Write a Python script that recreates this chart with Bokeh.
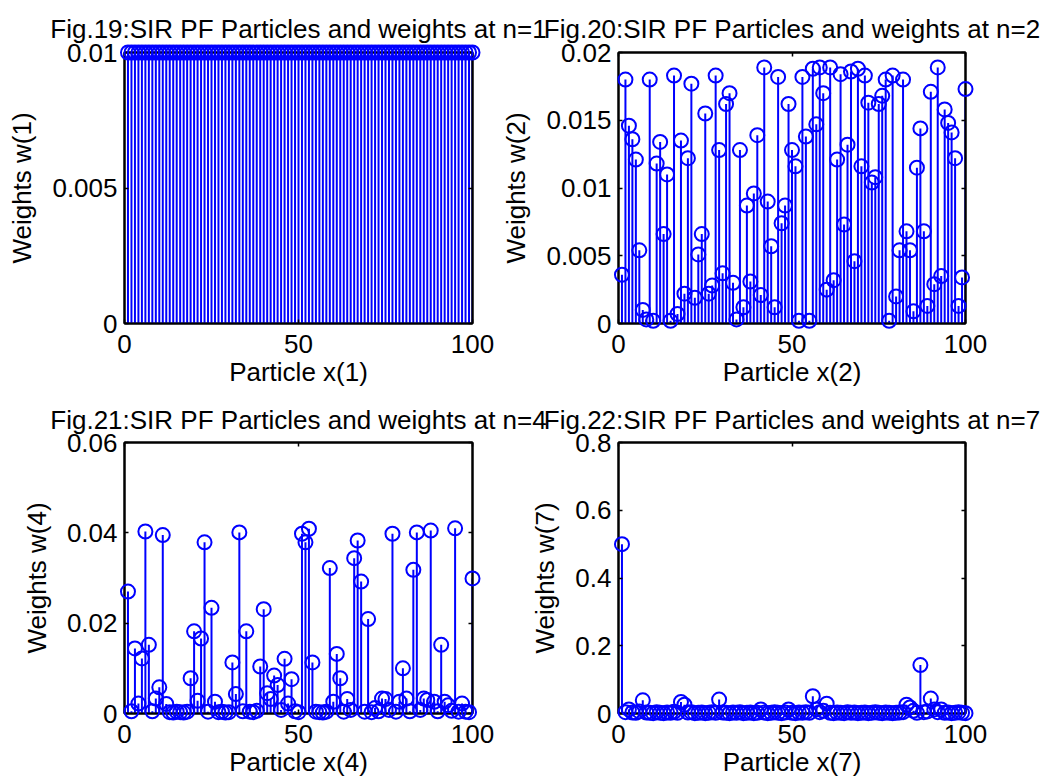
from bokeh.plotting import figure
from bokeh.models import Range1d, FixedTicker, LinearAxis, CustomJSTickFormatter, ColumnDataSource
from bokeh.layouts import row, column
from bokeh.embed import file_html
from bokeh.resources import INLINE

particles = list(range(1, 101))

w_n1 = [0.01] * 100

w_n2 = [0.0036, 0.0180, 0.0146, 0.0136, 0.0121, 0.0054, 0.0010, 0.0003, 0.0180, 0.0002,
        0.0118, 0.0134, 0.0066, 0.0110, 0.0002, 0.0183, 0.0007, 0.0135, 0.0022, 0.0122,
        0.0177, 0.0019, 0.0051, 0.0066, 0.0155, 0.0022, 0.0028, 0.0183, 0.0128, 0.0037,
        0.0162, 0.0170, 0.0030, 0.0003, 0.0128, 0.0012, 0.0087, 0.0031, 0.0096, 0.0139,
        0.0021, 0.0189, 0.0090, 0.0057, 0.0012, 0.0182, 0.0074, 0.0087, 0.0162, 0.0128,
        0.0116, 0.0002, 0.0182, 0.0138, 0.0002, 0.0188, 0.0147, 0.0189, 0.0170, 0.0025,
        0.0189, 0.0032, 0.0121, 0.0184, 0.0073, 0.0132, 0.0186, 0.0046, 0.0188, 0.0116,
        0.0183, 0.0163, 0.0104, 0.0108, 0.0162, 0.0168, 0.0180, 0.0002, 0.0183, 0.0020,
        0.0054, 0.0180, 0.0068, 0.0054, 0.0009, 0.0115, 0.0144, 0.0068, 0.0013, 0.0171,
        0.0029, 0.0189, 0.0035, 0.0158, 0.0148, 0.0141, 0.0122, 0.0013, 0.0034, 0.0173]

w_n4 = [0.0270, 0.0005, 0.0144, 0.0022, 0.0122, 0.0403, 0.0152, 0.0005, 0.0033, 0.0058,
        0.0395, 0.0021, 0.0003, 0.0002, 0.0004, 0.0003, 0.0002, 0.0004, 0.0078, 0.0182,
        0.0028, 0.0166, 0.0379, 0.0004, 0.0234, 0.0026, 0.0003, 0.0004, 0.0002, 0.0003,
        0.0113, 0.0043, 0.0401, 0.0005, 0.0182, 0.0004, 0.0003, 0.0006, 0.0104, 0.0231,
        0.0045, 0.0032, 0.0084, 0.0063, 0.0008, 0.0121, 0.0022, 0.0076, 0.0005, 0.0003,
        0.0398, 0.0379, 0.0409, 0.0113, 0.0004, 0.0003, 0.0002, 0.0004, 0.0322, 0.0026,
        0.0132, 0.0078, 0.0004, 0.0032, 0.0008, 0.0344, 0.0383, 0.0292, 0.0004, 0.0209,
        0.0003, 0.0012, 0.0005, 0.0033, 0.0032, 0.0008, 0.0398, 0.0004, 0.0026, 0.0100,
        0.0033, 0.0005, 0.0318, 0.0401, 0.0008, 0.0033, 0.0030, 0.0405, 0.0026, 0.0005,
        0.0152, 0.0026, 0.0018, 0.0006, 0.0410, 0.0004, 0.0022, 0.0004, 0.0003, 0.0299]

w_n7 = [0.500, 0.004, 0.012, 0.003, 0.002, 0.006, 0.039, 0.003, 0.002, 0.001,
        0.004, 0.002, 0.001, 0.003, 0.002, 0.005, 0.002, 0.034, 0.026, 0.003,
        0.004, 0.001, 0.002, 0.003, 0.001, 0.002, 0.004, 0.002, 0.041, 0.003,
        0.002, 0.001, 0.003, 0.002, 0.004, 0.001, 0.002, 0.003, 0.001, 0.002,
        0.012, 0.003, 0.001, 0.002, 0.004, 0.002, 0.001, 0.003, 0.012, 0.002,
        0.001, 0.003, 0.002, 0.004, 0.002, 0.051, 0.012, 0.004, 0.008, 0.029,
        0.002, 0.001, 0.003, 0.002, 0.001, 0.004, 0.002, 0.003, 0.001, 0.002,
        0.003, 0.001, 0.002, 0.004, 0.002, 0.001, 0.003, 0.002, 0.001, 0.002,
        0.003, 0.004, 0.026, 0.018, 0.008, 0.002, 0.143, 0.004, 0.006, 0.044,
        0.012, 0.004, 0.012, 0.002, 0.003, 0.001, 0.002, 0.004, 0.002, 0.001]

x_ticks = [0, 50, 100]
y_ticks_n1 = [0, 0.005, 0.01]
y_ticks_n2 = [0, 0.005, 0.01, 0.015, 0.02]
y_ticks_n4 = [0, 0.02, 0.04, 0.06]
y_ticks_n7 = [0, 0.2, 0.4, 0.6, 0.8]

titles = ["Fig.19:SIR PF Particles and weights at n=1",
          "Fig.20:SIR PF Particles and weights at n=2",
          "Fig.21:SIR PF Particles and weights at n=4",
          "Fig.22:SIR PF Particles and weights at n=7"]
steps = [1, 2, 4, 7]

FONT = "Liberation Sans"
FS = "26px"
fmt_code = "return String(Number(tick.toPrecision(6)));"


def panel(w, step, title, ymax, yticks, width, bl, br, height, bt, bb, margin, transparent, tstand):
    p = figure(width=width, height=height, x_range=Range1d(0, 100), y_range=Range1d(0, ymax),
               output_backend="svg", toolbar_location=None,
               min_border_left=bl, min_border_right=br, min_border_top=bt, min_border_bottom=bb,
               margin=margin, title=title)
    if transparent:
        p.border_fill_color = None
    p.background_fill_color = "white"
    p.outline_line_color = "black"
    p.outline_line_width = 2
    p.xgrid.visible = False
    p.ygrid.visible = False
    p.title.text_font = FONT
    p.title.text_font_size = FS
    p.title.text_font_style = "normal"
    p.title.text_color = "black"
    p.title.align = "center"
    p.title.standoff = tstand

    src = ColumnDataSource(dict(x=particles, w=w, z=[0] * len(w)))
    p.segment(x0="x", y0="z", x1="x", y1="w", source=src, line_color="#0000ff", line_width=2)
    r = p.scatter(x="x", y="w", source=src, marker="circle", size=14, fill_color=None,
                  line_color="#0000ff", line_width=2)
    r.level = "overlay"

    for ax, ticks, lab, standoff, lstand in ((p.xaxis[0], x_ticks, "Particle x(%d)" % step, 11, 1),
                                             (p.yaxis[0], yticks, "Weights w(%d)" % step, 7, 12)):
        ax.ticker = FixedTicker(ticks=ticks)
        ax.formatter = CustomJSTickFormatter(code=fmt_code)
        ax.axis_label = lab
        ax.axis_label_text_font = FONT
        ax.axis_label_text_font_size = FS
        ax.axis_label_text_font_style = "normal"
        ax.axis_label_text_color = "black"
        ax.axis_label_standoff = lstand
        ax.major_label_text_font = FONT
        ax.major_label_text_font_size = FS
        ax.major_label_text_color = "black"
        ax.major_label_standoff = standoff
        ax.major_tick_in = 4
        ax.major_tick_out = 0
        ax.minor_tick_line_color = None
        ax.axis_line_width = 2
        ax.axis_line_color = "black"
        ax.major_tick_line_color = "black"
        ax.major_tick_line_width = 1.5

    for loc, ticks in (("above", x_ticks), ("right", yticks)):
        ax = LinearAxis(ticker=FixedTicker(ticks=ticks),
                        formatter=CustomJSTickFormatter(code="return '';"),
                        major_label_text_font_size="0px", major_label_standoff=0,
                        major_tick_in=4, major_tick_out=0, minor_tick_line_color=None,
                        axis_line_width=2, axis_line_color="black", major_tick_line_width=1.5)
        p.add_layout(ax, loc)
    return p


p1 = panel(w_n1, steps[0], titles[0], 0.01, y_ticks_n1, 560, 124, 88, 400, 52, 77, (0, 0, 0, 0), False, 18)
p2 = panel(w_n2, steps[1], titles[1], 0.02, y_ticks_n2, 550, 124, 79, 400, 52, 77, (0, 0, 0, -66), True, 18)
p3 = panel(w_n4, steps[2], titles[2], 0.06, y_ticks_n4, 560, 124, 88, 393, 52, 70, (-10, 0, 0, 0), True, 15)
p4 = panel(w_n7, steps[3], titles[3], 0.8, y_ticks_n7, 550, 124, 79, 393, 52, 70, (-10, 0, 0, -66), True, 15)

layout = column(row(p1, p2), row(p3, p4))

open("out.html", "w").write(file_html(layout, INLINE))
